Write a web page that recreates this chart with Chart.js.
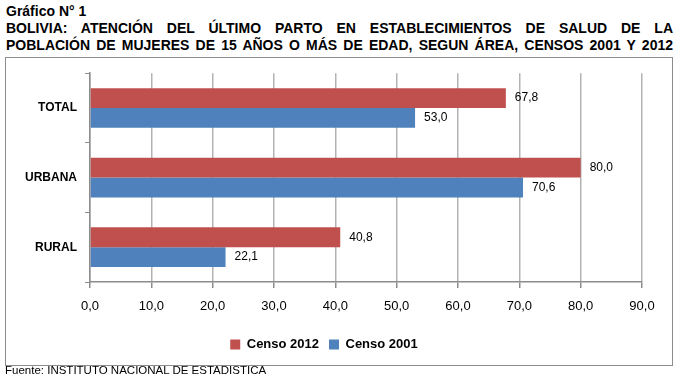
<!DOCTYPE html>
<html lang="es">
<head>
<meta charset="UTF-8">
<title>Gráfico N° 1</title>
<script src="https://cdn.jsdelivr.net/npm/chart.js"></script>
<style>
    body {
        margin: 0;
        padding: 0;
        width: 680px;
        height: 380px;
        background: #fff;
        font-family: "Liberation Sans", Arial, sans-serif;
        position: relative;
        overflow: hidden;
    }
    .head {
        position: absolute;
        left: 6px;
        top: 2px;
        width: 667px;
        font-weight: bold;
        font-size: 14px;
        line-height: 18px;
        color: #000;
    }
    .sub {
        line-height: 17px;
        text-align: justify;
        text-align-last: justify;
    }
    .box {
        position: absolute;
        left: 5px;
        top: 57px;
        width: 666px;
        height: 307px;
        border: 1px solid #8c8c8c;
    }
    .fuente {
        position: absolute;
        left: 5px;
        top: 364px;
        font-size: 11.5px;
        color: #000;
    }
</style>
</head>
<body>
<div class="head">
    <div>Gráfico N° 1</div>
    <div class="sub">BOLIVIA: ATENCIÓN DEL ÚLTIMO PARTO EN ESTABLECIMIENTOS DE SALUD DE LA</div>
    <div class="sub">POBLACIÓN DE MUJERES DE 15 AÑOS O MÁS DE EDAD, SEGUN ÁREA, CENSOS 2001 Y 2012</div>
</div>
<div class="box">
    <canvas id="grafico" width="666" height="307"></canvas>
</div>
<div class="fuente">Fuente: INSTITUTO NACIONAL DE ESTADISTICA</div>
<script>
const areas = ['TOTAL', 'URBANA', 'RURAL'];
const censo2012 = [67.8, 80.0, 40.8];
const censo2001 = [53.0, 70.6, 22.1];
const ejeX = [0, 10, 20, 30, 40, 50, 60, 70, 80, 90];

const fmt = v => v.toFixed(1).replace('.', ',');

// etiquetas de valor a la derecha de cada barra
const etiquetas = {
    id: 'etiquetas',
    afterDatasetsDraw(chart) {
        const ctx = chart.ctx;
        ctx.save();
        ctx.font = '12px "Liberation Sans", Arial, sans-serif';
        ctx.fillStyle = '#000';
        ctx.textAlign = 'left';
        ctx.textBaseline = 'middle';
        chart.data.datasets.forEach((ds, i) => {
            chart.getDatasetMeta(i).data.forEach((bar, j) => {
                ctx.fillText(fmt(ds.data[j]), bar.x + 9, bar.y);
            });
        });
        ctx.restore();
    }
};

new Chart(document.getElementById('grafico'), {
    type: 'bar',
    data: {
        labels: areas,
        datasets: [{
            label: 'Censo 2012',
            data: censo2012,
            backgroundColor: '#C0504D',
            borderWidth: 0
        }, {
            label: 'Censo 2001',
            data: censo2001,
            backgroundColor: '#4F81BD',
            borderWidth: 0
        }]
    },
    options: {
        indexAxis: 'y',
        responsive: false,
        animation: false,
        datasets: {
            bar: {
                categoryPercentage: 0.57,
                barPercentage: 1
            }
        },
        layout: {
            padding: { left: 0, right: 30, top: 10, bottom: 4 }
        },
        scales: {
            x: {
                min: 0,
                max: 90,
                afterBuildTicks: axis => {
                    axis.ticks = ejeX.map(v => ({ value: v }));
                },
                afterFit: axis => { axis.height = 46; },
                grid: {
                    color: '#b3b3b3',
                    lineWidth: 1.5,
                    tickLength: 6,
                    tickColor: '#8c8c8c'
                },
                border: { color: '#8c8c8c', width: 1.5 },
                ticks: {
                    callback: v => fmt(v),
                    color: '#000',
                    padding: 11,
                    font: { family: '"Liberation Sans", Arial, sans-serif', size: 13 }
                }
            },
            y: {
                afterFit: axis => { axis.width = 84; },
                grid: {
                    offset: true,
                    drawOnChartArea: false,
                    tickLength: 5,
                    tickColor: '#8c8c8c'
                },
                border: { color: '#8c8c8c', width: 1.5 },
                ticks: {
                    color: '#000',
                    padding: 8,
                    font: { family: '"Liberation Sans", Arial, sans-serif', size: 12, weight: 'bold' }
                }
            }
        },
        plugins: {
            legend: {
                position: 'bottom',
                labels: {
                    boxWidth: 10,
                    boxHeight: 10,
                    padding: 10,
                    color: '#000',
                    font: { family: '"Liberation Sans", Arial, sans-serif', size: 13, weight: 'bold' }
                }
            },
            tooltip: { enabled: false }
        }
    },
    plugins: [etiquetas]
});
</script>
</body>
</html>
